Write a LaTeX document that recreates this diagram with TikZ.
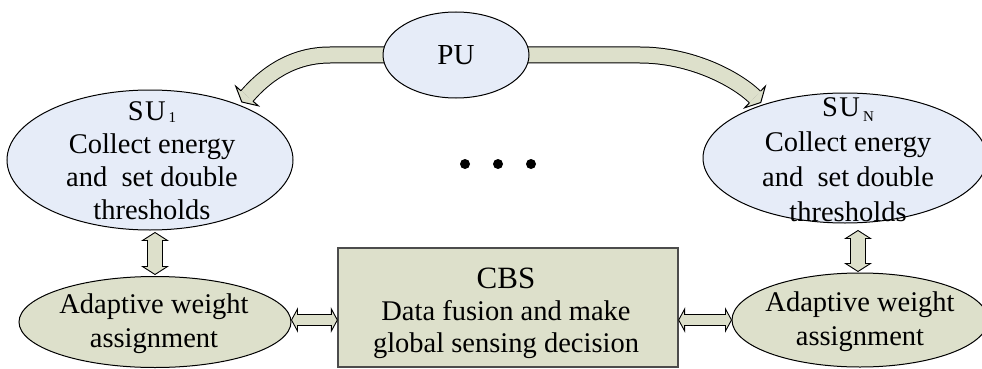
\documentclass[tikz,border=0pt]{standalone}
\usepackage{fontspec}
\setmainfont{Liberation Serif}
\usetikzlibrary{shapes.geometric,calc}
\definecolor{sublue}{RGB}{230,236,248}
\definecolor{grn}{RGB}{221,224,203}
\newcommand\vdarrow[2]{\path[fatarrow] let \p1=(#1), \p2=(#2) in (\x1,\y1) -- ++(12.5,8) -- ++(-5,0) -- (\x1+7.5pt,\y2+8pt) -- ++(5,0) -- (\x1,\y2) -- ++(-12.5,-8) -- ++(5,0) -- (\x1-7.5pt,\y1-8pt) -- ++(-5,0) -- cycle;}
\newcommand\hdarrow[2]{\path[fatarrow] let \p1=(#1), \p2=(#2) in (\x1,\y1) -- ++(6,-11) -- ++(0,5.5) -- (\x2-6pt,\y1+5.5pt) -- ++(0,-5.5) -- (\x2,\y1) -- ++(-6,11) -- ++(0,-5.5) -- (\x1+6pt,\y1-5.5pt) -- ++(0,5.5) -- cycle;}
\begin{document}
\begin{tikzpicture}[x=1pt,y=-1pt, line width=1pt,
  txt/.style={font=\fontsize{28.5}{33}\selectfont, align=center, inner sep=0},
  blueell/.style={ellipse, draw=black, fill=sublue, inner sep=0},
  grnell/.style={ellipse, draw=black, fill=grn, inner sep=0},
  fatarrow/.style={fill=grn, draw=black, line width=0.9pt, line join=miter},
  curveout/.style={line width=17pt, draw=black},
  curvein/.style={line width=15pt, draw=grn},
  headline/.style={line width=1pt, line join=miter}]
\useasboundingbox (0,0) rectangle (982,369);

% shapes
\node[blueell, minimum width=286, minimum height=140] (su1) at (150,160) {};
\node[blueell, minimum width=284, minimum height=130] (sun) at (845,158) {};
\node[grnell, minimum width=272, minimum height=91] (aw1) at (155,322) {};
\node[grnell, minimum width=256, minimum height=94] (awn) at (860,320) {};
\node[draw=black!70, line width=1.3pt, fill=grn, minimum width=340, minimum height=119, inner sep=0] (cbs) at (508,307.5) {};

% texts
\node[txt] (su1t) at (152,161) {S\kern1.5pt U\kern3pt\raisebox{-2pt}{\fontsize{15}{15}\selectfont 1}\\Collect energy\\and~~set double\\thresholds};
\node[txt, font=\fontsize{28.5}{35}\selectfont] (sunt) at (848,160) {S\kern1.5pt U\kern3pt\raisebox{-5pt}{\fontsize{15}{15}\selectfont N}\\Collect energy\\and~~set double\\thresholds};
\node[txt, font=\fontsize{28.5}{34}\selectfont] (aw1t) at (154,323.5) {Adaptive weight\\assignment};
\node[txt, font=\fontsize{28.5}{34}\selectfont] (awnt) at (860,322) {Adaptive weight\\assignment};
\node[txt, font=\fontsize{28.5}{32}\selectfont] (cbst) at (506,313) {{\fontsize{31}{32}\selectfont CBS}\\Data fusion and make\\global sensing decision};

% curved arrows PU -> SU1 and PU -> SUN
\coordinate (pl) at (456,55);
\draw[curveout] (pl) -- (330,55) .. controls (290,55) and (263.5,77) .. (247,96);
\draw[curvein] (pl) -- (330,55) .. controls (290,55) and (263.5,77) .. (247,96);
\fill[grn] (258.3,105.8) -- (241.8,102) -- (235.7,86.2) -- cycle;
\draw[headline] (253.0,101.2) -- (258.3,105.8) -- (241.8,102) -- (235.7,86.2) -- (241.0,90.8);

\draw[curveout] (pl) -- (640,55) .. controls (690,55) and (734.8,77.7) .. (755,97);
\draw[curvein] (pl) -- (640,55) .. controls (690,55) and (734.8,77.7) .. (755,97);
\fill[grn] (744.65,107.8) -- (760.76,102.52) -- (765.35,86.2) -- cycle;
\draw[headline] (749.48,102.76) -- (744.65,107.8) -- (760.76,102.52) -- (765.35,86.2) -- (760.52,91.24);

\node[blueell, minimum width=146, minimum height=86, font=\fontsize{29}{29}\selectfont] (pu) at (456,55) {PU};

% straight double arrows
\coordinate (v1a) at ($(su1.south)+(5,2)$);
\coordinate (v1b) at ($(aw1.north)+(0,-1.5)$);
\vdarrow{v1a}{v1b}
\coordinate (v2a) at ($(sun.south)+(13,7)$);
\coordinate (v2b) at ($(awn.north)+(-2,-1)$);
\vdarrow{v2a}{v2b}
\coordinate (h1a) at ($(aw1.east)+(0,-2)$);
\coordinate (h1b) at (cbs.west |- h1a);
\hdarrow{h1a}{h1b}
\coordinate (h2a) at (cbs.east |- h1a);
\coordinate (h2b) at (awn.west |- h1a);
\hdarrow{h2a}{h2b}

% dots
\fill (465,164) circle (5pt);
\fill (498,164) circle (5pt);
\fill (531,164) circle (5pt);
\end{tikzpicture}
\end{document}
